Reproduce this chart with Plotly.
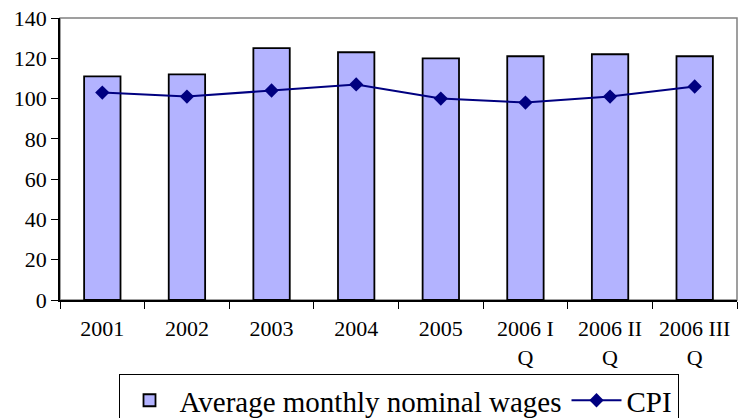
import plotly.graph_objects as go

# data
categories = ["2001", "2002", "2003", "2004", "2005", "2006 I Q", "2006 II Q", "2006 III Q"]
tick_labels = ["2001", "2002", "2003", "2004", "2005", "2006 I<br>Q", "2006 II<br>Q", "2006 III<br>Q"]
wages = [111, 112, 125, 123, 120, 121, 122, 121]
cpi = [103, 101, 104, 107, 100, 98, 101, 106]

FONT = "Liberation Serif, Times New Roman, serif"

fig = go.Figure()

fig.add_trace(go.Bar(
    x=categories,
    y=wages,
    name="Average monthly nominal wages",
    marker=dict(color="#B3B3FF", line=dict(color="black", width=1.8)),
))

fig.add_trace(go.Scatter(
    x=categories,
    y=cpi,
    name="CPI",
    mode="lines+markers",
    line=dict(color="#000080", width=2),
    marker=dict(symbol="diamond", size=11, color="#000080"),
))

# grey frame around plot area (top and right edges)
fig.add_shape(
    type="rect", xref="paper", yref="paper",
    x0=0, y0=0, x1=1, y1=1,
    line=dict(color="#808080", width=1.5),
    layer="below",
)

# page body has an 8px margin, so the figure is sized/offset to compensate
fig.update_layout(
    width=739,
    height=410,
    margin=dict(l=52, r=10, t=10, b=118, autoexpand=False),
    paper_bgcolor="white",
    plot_bgcolor="white",
    font=dict(family=FONT, size=22, color="black"),
    bargap=0.57,
    showlegend=True,
    legend=dict(
        orientation="h",
        x=0.5, xanchor="center",
        y=-0.262, yanchor="top",
        bordercolor="black",
        borderwidth=1,
        font=dict(family=FONT, size=29, color="black"),
        itemwidth=50,
        tracegroupgap=0,
    ),
    xaxis=dict(
        tickvals=categories,
        ticktext=tick_labels,
        tickson="boundaries",
        ticks="outside",
        ticklen=7,
        tickcolor="black",
        showline=True,
        linecolor="black",
        linewidth=1.5,
        showgrid=False,
        ticklabelstandoff=8,
        ticklabeloverflow="allow",
        automargin=False,
        tickfont=dict(family=FONT, size=22),
    ),
    yaxis=dict(
        range=[0, 140],
        dtick=20,
        ticks="outside",
        ticklen=7,
        tickcolor="black",
        showline=True,
        linecolor="black",
        linewidth=1.5,
        showgrid=False,
        zeroline=False,
        ticklabeloverflow="allow",
        automargin=False,
        tickfont=dict(family=FONT, size=22),
    ),
)

fig.write_html("out.html")
